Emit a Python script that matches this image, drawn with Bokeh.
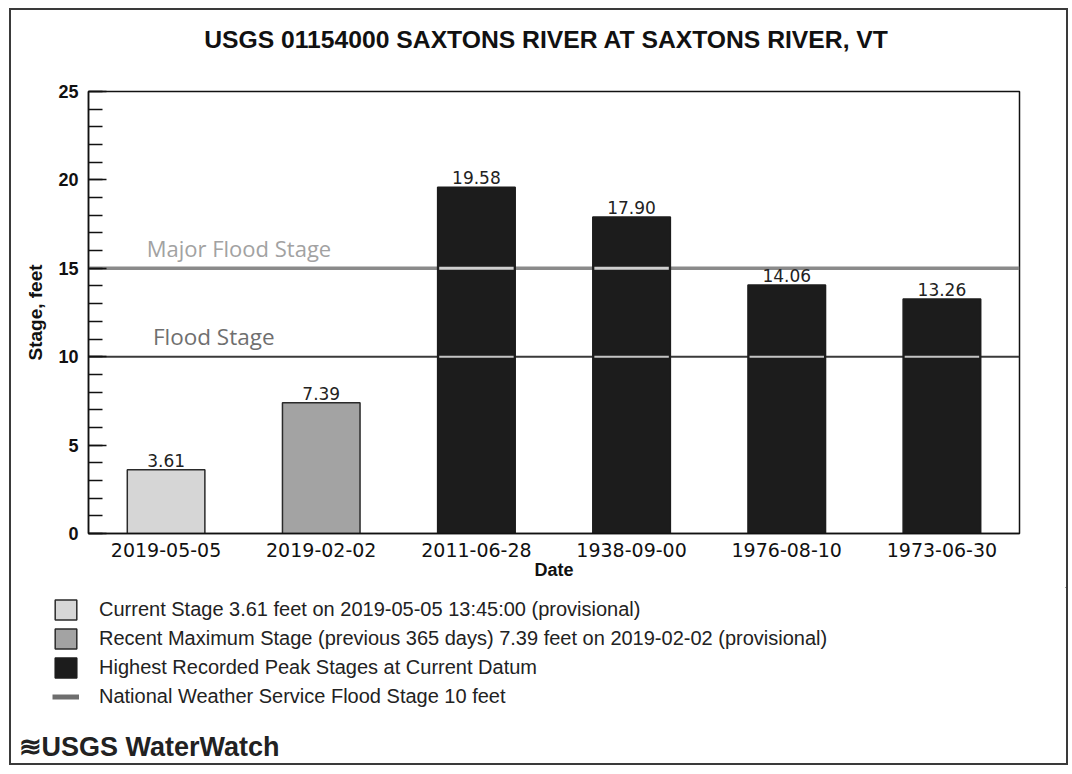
from bokeh.plotting import figure
from bokeh.layouts import column
from bokeh.models import (ColumnDataSource, Range1d, FixedTicker, SingleIntervalTicker,
                          Label, LabelSet, Legend, LegendItem, Span)
from bokeh.embed import file_html
from bokeh.resources import INLINE
from bokeh.core.properties import value

# ---------------- data ----------------
title_text = "USGS 01154000 SAXTONS RIVER AT SAXTONS RIVER, VT"
logo_text = "\u224bUSGS WaterWatch"
dates = ["2019-05-05", "2019-02-02", "2011-06-28", "1938-09-00", "1976-08-10", "1973-06-30"]
stages = [3.61, 7.39, 19.58, 17.90, 14.06, 13.26]
groups = ["current", "recent", "peak", "peak", "peak", "peak"]
flood_stage = 10
major_flood_stage = 15
legend_groups = ["current", "recent", "peak"]
legend_labels = {
    "current": "Current Stage 3.61 feet on 2019-05-05 13:45:00 (provisional)",
    "recent": "Recent Maximum Stage (previous 365 days) 7.39 feet on 2019-02-02 (provisional)",
    "peak": "Highest Recorded Peak Stages at Current Datum",
    "flood": "National Weather Service Flood Stage 10 feet",
}
group_colors = {"current": "#d6d6d6", "recent": "#a3a3a3", "peak": "#1c1c1c"}
y_ticks_interval = 5
y_max = 25

FONT = "Liberation Sans"
WIDE = "DejaVu Sans"
BAR_W = 0.5
W = 1055

xs = list(range(len(dates)))


def bare(height, x_range=(0, 1), y_range=(0, 1)):
    f = figure(width=W, height=height, output_backend="svg", toolbar_location=None,
               x_range=Range1d(*x_range), y_range=Range1d(*y_range),
               x_axis_location=None, y_axis_location=None,
               min_border_left=0, min_border_right=0, min_border_top=0, min_border_bottom=0,
               border_fill_color="white", background_fill_color="white")
    f.outline_line_color = None
    f.grid.visible = False
    return f


# ---------------- title strip ----------------
pt = bare(60)
pt.add_layout(Label(x=535, y=31, x_units="screen", y_units="screen", text=title_text,
                    text_align="center", text_baseline="middle", text_font=FONT,
                    text_font_size="24.7px", text_font_style="bold", text_color="#111111"))

# ---------------- main chart ----------------
p = figure(width=W, height=517, output_backend="svg", toolbar_location=None,
           x_range=Range1d(-0.5, len(dates) - 0.5), y_range=Range1d(0, y_max),
           min_border_left=77, min_border_right=47, min_border_top=21, min_border_bottom=54,
           background_fill_color="white", border_fill_color="white")
p.outline_line_color = "#111111"
p.outline_line_width = 1.5
p.xgrid.visible = False
p.ygrid.visible = False

# flood lines under the bars
p.add_layout(Span(location=major_flood_stage, dimension="width", line_color="#8a8a8a",
                  line_width=3.5, level="underlay"))
p.add_layout(Span(location=flood_stage, dimension="width", line_color="#3a3a3a",
                  line_width=2, level="underlay"))

for g in legend_groups:
    idx = [i for i, gg in enumerate(groups) if gg == g]
    src = ColumnDataSource(dict(x=[xs[i] for i in idx], top=[stages[i] for i in idx]))
    p.vbar(x="x", top="top", bottom=0, width=BAR_W, source=src,
           fill_color=group_colors[g],
           line_color="#2a2a2a" if g != "peak" else group_colors[g], line_width=1.5)

# light line segments over the bars that cross the stage lines
for lvl, col, lw in [(major_flood_stage, "#cfcfcf", 3), (flood_stage, "#c4c4c4", 2)]:
    over = [i for i in xs if stages[i] > lvl]
    p.segment(x0=[i - BAR_W / 2 + 0.01 for i in over], x1=[i + BAR_W / 2 - 0.01 for i in over],
              y0=[lvl] * len(over), y1=[lvl] * len(over), line_color=col, line_width=lw)

# value labels
lab_src = ColumnDataSource(dict(x=xs, y=stages, t=["%.2f" % v for v in stages]))
p.add_layout(LabelSet(x="x", y="y", text="t", source=lab_src, y_offset=3,
                      text_align="center", text_baseline="alphabetic",
                      text_font=value(WIDE), text_font_size="17px", text_color="#222222"))

# stage line texts
p.add_layout(Label(x=-0.125, y=16.15, text="Major Flood Stage", text_font="Open Sans",
                   text_font_size="22px", text_color="#a2a2a2", text_baseline="middle"))
p.add_layout(Label(x=-0.085, y=11.15, text="Flood Stage", text_font="Open Sans",
                   text_font_size="22.5px", text_color="#6f6f6f", text_baseline="middle"))

# axes
yax = p.yaxis[0]
yax.ticker = SingleIntervalTicker(interval=y_ticks_interval, num_minor_ticks=5)
yax.major_tick_in = 18
yax.major_tick_out = 0
yax.minor_tick_in = 14
yax.minor_tick_out = 0
yax.major_tick_line_color = "#111111"
yax.minor_tick_line_color = "#111111"
yax.major_tick_line_width = 1.5
yax.minor_tick_line_width = 1.5
yax.axis_line_color = "#111111"
yax.axis_line_width = 1.5
yax.major_label_text_font = FONT
yax.major_label_text_font_size = "18px"
yax.major_label_text_font_style = "bold"
yax.major_label_text_color = "#111111"
yax.major_label_standoff = 10
yax.axis_label = "Stage, feet"
yax.axis_label_text_font = FONT
yax.axis_label_text_font_size = "19px"
yax.axis_label_text_font_style = "bold"
yax.axis_label_text_color = "#111111"
yax.axis_label_standoff = 9

xax = p.xaxis[0]
xax.ticker = FixedTicker(ticks=xs)
xax.major_label_overrides = {i: d for i, d in zip(xs, dates)}
xax.major_tick_in = 0
xax.major_tick_out = 0
xax.minor_tick_line_color = None
xax.axis_line_color = "#111111"
xax.axis_line_width = 1.5
xax.major_label_text_font = WIDE
xax.major_label_text_font_size = "19px"
xax.major_label_text_color = "#111111"
xax.major_label_standoff = 9
xax.axis_label = "Date"
xax.axis_label_text_font = FONT
xax.axis_label_text_font_size = "18px"
xax.axis_label_text_font_style = "bold"
xax.axis_label_text_color = "#111111"
xax.axis_label_standoff = 0

# ---------------- legend + logo strip ----------------
# the legend's swatch renderers hold the real series but sit far outside this strip's view
pl = bare(176, x_range=(-40, -30), y_range=(-40, -30))
items = []
for g in legend_groups:
    idx = [i for i, gg in enumerate(groups) if gg == g]
    src = ColumnDataSource(dict(x=[xs[i] for i in idx], top=[stages[i] for i in idx]))
    r = pl.vbar(x="x", top="top", bottom=0, width=BAR_W, source=src,
                fill_color=group_colors[g],
                line_color="#2a2a2a" if g != "peak" else group_colors[g], line_width=1.5)
    items.append(LegendItem(label=legend_labels[g], renderers=[r], index=0))
fr = pl.line(x=[xs[0], xs[-1]], y=[flood_stage, flood_stage], line_color="#6e6e6e", line_width=5)
items.append(LegendItem(label=legend_labels["flood"], renderers=[fr]))

legend = Legend(items=items, location=(41, 54), orientation="vertical",
                glyph_height=25, glyph_width=27, label_height=25, spacing=4,
                padding=0, margin=0, label_standoff=20,
                border_line_color=None, background_fill_alpha=0,
                label_text_font=FONT, label_text_font_size="20px", label_text_color="#222222")
pl.add_layout(legend, "center")

pl.add_layout(Label(x=7, y=17, x_units="screen", y_units="screen", text=logo_text,
                    text_baseline="middle", text_font=FONT, text_font_size="27px",
                    text_font_style="bold", text_color="#222222"))

layout = column(column(pt), p, column(pl), spacing=0,
                styles={"border": "2px solid #3a3a3a", "margin-left": "9px", "margin-top": "8px"})

open("out.html", "w").write(file_html(layout, INLINE))
